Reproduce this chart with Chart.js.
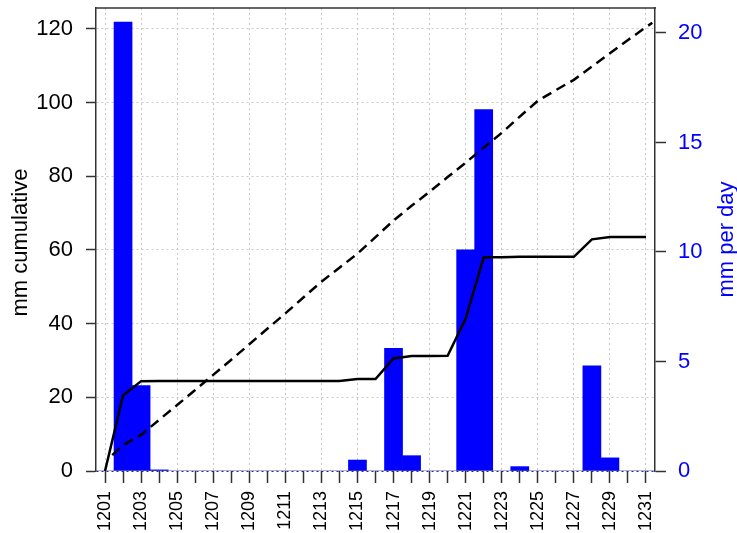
<!DOCTYPE html>
<html>
<head>
<meta charset="utf-8">
<script src="https://cdn.jsdelivr.net/npm/chart.js@4.4.1/dist/chart.umd.min.js"></script>
<style>
body { margin: 0; background: #fff; }
canvas { display: block; }
</style>
</head>
<body>
<canvas id="chart" width="737" height="533"></canvas>
<script>
var days = [1201, 1202, 1203, 1204, 1205, 1206, 1207, 1208, 1209, 1210,
            1211, 1212, 1213, 1214, 1215, 1216, 1217, 1218, 1219, 1220,
            1221, 1222, 1223, 1224, 1225, 1226, 1227, 1228, 1229, 1230, 1231];
var dailyRain = [0, 20.5, 3.9, 0.05, 0, 0, 0, 0, 0, 0,
                 0, 0, 0, 0, 0.5, 0, 5.6, 0.7, 0, 0,
                 10.1, 16.5, 0, 0.2, 0, 0, 0, 4.8, 0.6, 0, 0];
var cumulative = [0, 20.5, 24.4, 24.45, 24.45, 24.45, 24.45, 24.45, 24.45, 24.45,
                  24.45, 24.45, 24.45, 24.45, 24.95, 24.95, 30.55, 31.25, 31.25, 31.3,
                  41.4, 58.0, 58.0, 58.15, 58.15, 58.15, 58.15, 62.9, 63.5, 63.5, 63.5];
var normalDays = [1201.4, 1202, 1203, 1204, 1205, 1206, 1207, 1208, 1209, 1210,
                  1211, 1212, 1213, 1214, 1215, 1216, 1217, 1218, 1219, 1220,
                  1221, 1222, 1223, 1224, 1225, 1226, 1227, 1228, 1229, 1230, 1231, 1231.35];
var normalCum = [4.3, 7.0, 9.8, 13.9, 17.9, 22.0, 26.1, 30.2, 34.4, 38.6,
                 42.8, 47.1, 51.4, 55.2, 59.0, 63.5, 68.0, 72.0, 75.8, 79.8,
                 83.7, 87.8, 91.8, 96.2, 100.5, 103.4, 106.2, 109.8, 113.4, 117.0, 120.5, 121.7];
var leftTicks = [0, 20, 40, 60, 80, 100, 120];
var rightTicks = [0, 5, 10, 15, 20];

var FONT = '"Liberation Sans", Arial, sans-serif';
Chart.defaults.font.family = FONT;

function pairs(xs, ys) {
    var out = [];
    for (var i = 0; i < xs.length; ++i) out.push({x: xs[i], y: ys[i]});
    return out;
}

// top frame line and both axis titles (right one reads bottom-to-top)
var frameAndTitles = {
    id: 'frameAndTitles',
    afterDraw: function(chart) {
        var ctx = chart.ctx, a = chart.chartArea;
        ctx.save();
        ctx.strokeStyle = '#333';
        ctx.lineWidth = 1.5;
        ctx.beginPath();
        ctx.moveTo(a.left, a.top);
        ctx.lineTo(a.right + 1, a.top);
        ctx.stroke();
        ctx.font = '22px ' + FONT;
        ctx.textAlign = 'center';
        ctx.textBaseline = 'middle';
        var mid = (a.top + a.bottom) / 2;
        ctx.fillStyle = '#000';
        ctx.translate(21, mid + 3);
        ctx.rotate(-Math.PI / 2);
        ctx.fillText('mm cumulative', 0, 0);
        ctx.restore();
        ctx.save();
        ctx.font = '22px ' + FONT;
        ctx.textAlign = 'center';
        ctx.textBaseline = 'middle';
        ctx.fillStyle = '#0000ff';
        ctx.translate(727, mid);
        ctx.rotate(-Math.PI / 2);
        ctx.fillText('mm per day', 0, 0);
        ctx.restore();
    }
};

var ctx = document.getElementById('chart');
new Chart(ctx, {
    data: {
        datasets: [{
            type: 'line',
            data: pairs(days, cumulative),
            yAxisID: 'y',
            borderColor: '#000',
            borderWidth: 2.5,
            pointRadius: 0,
            tension: 0,
            fill: false,
            order: 0
        }, {
            type: 'line',
            data: pairs(normalDays, normalCum),
            yAxisID: 'y',
            borderColor: '#000',
            borderWidth: 2.5,
            borderDash: [10, 6],
            pointRadius: 0,
            tension: 0,
            fill: false,
            order: 1
        }, {
            type: 'bar',
            data: pairs(days, dailyRain),
            yAxisID: 'y1',
            backgroundColor: '#0000ff',
            borderWidth: 0,
            barPercentage: 1,
            categoryPercentage: 1,
            order: 2
        }]
    },
    options: {
        responsive: false,
        animation: false,
        layout: { padding: { top: 8 } },
        plugins: { legend: { display: false }, tooltip: { enabled: false } },
        scales: {
            x: {
                type: 'linear',
                min: 1200.5,
                max: 1231.5,
                offset: false,
                z: 1,
                afterBuildTicks: function(s) { s.ticks = days.map(function(d) { return {value: d}; }); },
                afterFit: function(s) { s.height = 62; s.paddingLeft = 0; s.paddingRight = 0; },
                border: { display: false, dash: [2, 3] },
                grid: {
                    offset: false,
                    color: function(c) { return c.tick && c.tick.value % 2 == 1 ? '#c8c8c8' : 'rgba(0,0,0,0)'; },
                    borderDash: [2, 3],
                    tickColor: '#333',
                    tickLength: 12,
                    tickWidth: 1.5,
                    tickBorderDash: []
                },
                ticks: {
                    autoSkip: false,
                    minRotation: 90,
                    maxRotation: 90,
                    padding: 8,
                    color: '#000',
                    font: { size: 18 },
                    callback: function(v) { return v % 2 == 1 ? String(v) : ''; }
                }
            },
            y: {
                position: 'left',
                min: 0,
                max: 125.7,
                z: 1,
                afterBuildTicks: function(s) { s.ticks = leftTicks.map(function(v) { return {value: v}; }); },
                afterFit: function(s) { s.width = 96; s.paddingTop = 0; s.paddingBottom = 0; },
                border: { display: true, color: '#333', width: 1.5, dash: [2, 3] },
                grid: {
                    color: function(c) { return c.tick && c.tick.value === 0 ? '#333' : '#c8c8c8'; },
                    borderDash: [2, 3],
                    tickColor: '#333',
                    tickLength: 10,
                    tickWidth: 1.5,
                    tickBorderDash: []
                },
                ticks: { color: '#000', padding: 13, font: { size: 22 } }
            },
            y1: {
                position: 'right',
                min: 0,
                max: 21.14,
                afterBuildTicks: function(s) { s.ticks = rightTicks.map(function(v) { return {value: v}; }); },
                afterFit: function(s) { s.width = 82; s.paddingTop = 0; s.paddingBottom = 0; },
                border: { display: true, color: '#333', width: 1.5 },
                grid: { drawOnChartArea: false, color: '#333', tickLength: 11, tickWidth: 1.5 },
                ticks: { color: '#0000ff', padding: 12, font: { size: 22 } }
            }
        }
    },
    plugins: [frameAndTitles]
});
</script>
</body>
</html>
